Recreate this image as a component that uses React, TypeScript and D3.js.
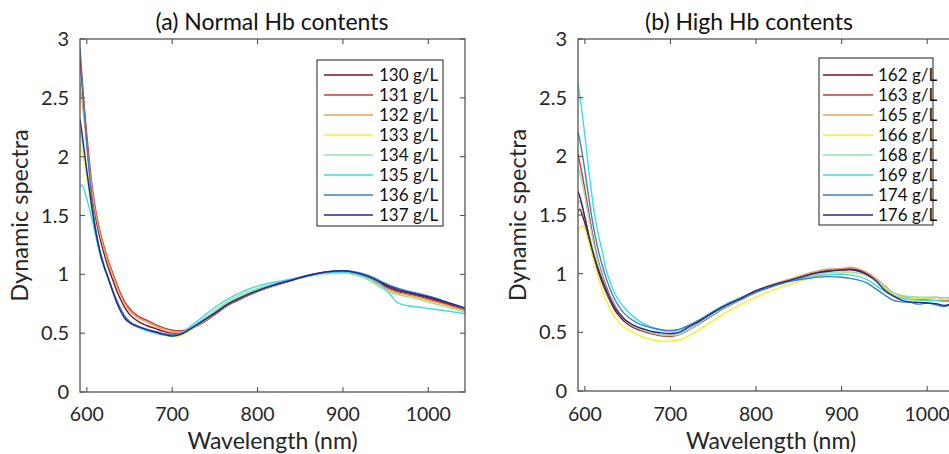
import React from "react";
import * as d3 from "d3";

// ---------- DATA ----------
const WL_A = [592, 594, 597, 600, 603, 606, 610, 615, 620, 625, 630, 635, 640, 645, 650, 660, 670, 680, 690, 700, 710, 720, 735, 750, 765, 780, 800, 820, 840, 860, 880, 900, 915, 930, 945, 955, 965, 975, 990, 1005, 1020, 1043];

const LABELS_A = ["130 g/L", "131 g/L", "132 g/L", "133 g/L", "134 g/L", "135 g/L", "136 g/L", "137 g/L"];

const A130 = [2.85, 2.66, 2.38, 2.12, 1.9, 1.7, 1.5, 1.32, 1.18, 1.06, 0.96, 0.86, 0.78, 0.71, 0.66, 0.6, 0.565, 0.54, 0.515, 0.5, 0.505, 0.53, 0.585, 0.66, 0.735, 0.79, 0.855, 0.905, 0.95, 0.99, 1.015, 1.025, 1.01, 0.975, 0.92, 0.885, 0.86, 0.845, 0.82, 0.79, 0.755, 0.7];
const A131 = [2.84, 2.68, 2.42, 2.18, 1.96, 1.76, 1.56, 1.38, 1.24, 1.12, 1.02, 0.92, 0.83, 0.76, 0.71, 0.645, 0.61, 0.575, 0.545, 0.525, 0.52, 0.54, 0.59, 0.665, 0.74, 0.795, 0.855, 0.905, 0.95, 0.99, 1.015, 1.02, 1.005, 0.97, 0.91, 0.875, 0.85, 0.835, 0.81, 0.78, 0.75, 0.7];
const A132 = [2.62, 2.5, 2.3, 2.1, 1.9, 1.72, 1.53, 1.36, 1.22, 1.1, 1.0, 0.9, 0.81, 0.74, 0.69, 0.63, 0.595, 0.56, 0.53, 0.51, 0.51, 0.535, 0.59, 0.665, 0.74, 0.795, 0.855, 0.905, 0.95, 0.985, 1.01, 1.015, 1.0, 0.96, 0.9, 0.865, 0.84, 0.825, 0.8, 0.77, 0.74, 0.69];
const A133 = [2.11, 2.06, 1.95, 1.82, 1.68, 1.54, 1.38, 1.21, 1.08, 0.97, 0.87, 0.78, 0.7, 0.64, 0.6, 0.555, 0.525, 0.505, 0.485, 0.47, 0.48, 0.52, 0.6, 0.68, 0.755, 0.81, 0.87, 0.915, 0.955, 0.985, 1.005, 1.01, 0.995, 0.955, 0.89, 0.855, 0.83, 0.815, 0.79, 0.76, 0.73, 0.68];
const A134 = [2.22, 2.15, 2.02, 1.87, 1.72, 1.57, 1.4, 1.22, 1.08, 0.97, 0.87, 0.78, 0.7, 0.64, 0.6, 0.555, 0.525, 0.505, 0.485, 0.475, 0.49, 0.535, 0.615, 0.695, 0.77, 0.825, 0.88, 0.92, 0.955, 0.985, 1.005, 1.01, 0.995, 0.95, 0.885, 0.85, 0.825, 0.81, 0.785, 0.755, 0.725, 0.68];
const A135 = [1.74, 1.76, 1.72, 1.64, 1.56, 1.47, 1.34, 1.18, 1.06, 0.96, 0.86, 0.77, 0.69, 0.63, 0.595, 0.55, 0.52, 0.5, 0.485, 0.48, 0.5, 0.55, 0.635, 0.72, 0.79, 0.845, 0.9, 0.935, 0.96, 0.99, 1.015, 1.02, 1.005, 0.97, 0.91, 0.83, 0.755, 0.735, 0.72, 0.705, 0.69, 0.665];
const A136 = [2.93, 2.72, 2.4, 2.1, 1.85, 1.62, 1.4, 1.21, 1.08, 0.97, 0.87, 0.78, 0.7, 0.64, 0.6, 0.56, 0.535, 0.515, 0.495, 0.485, 0.495, 0.53, 0.6, 0.675, 0.75, 0.805, 0.865, 0.915, 0.955, 0.995, 1.02, 1.03, 1.02, 0.99, 0.94, 0.905, 0.88, 0.86, 0.835, 0.805, 0.77, 0.71];
const A137 = [2.32, 2.22, 2.05, 1.88, 1.72, 1.56, 1.38, 1.2, 1.07, 0.97, 0.86, 0.76, 0.68, 0.62, 0.59, 0.555, 0.53, 0.51, 0.49, 0.475, 0.49, 0.53, 0.6, 0.67, 0.745, 0.8, 0.86, 0.91, 0.95, 0.99, 1.02, 1.03, 1.015, 0.98, 0.93, 0.895, 0.87, 0.85, 0.825, 0.8, 0.765, 0.715];

const WL_B = [592, 594, 597, 600, 603, 606, 610, 615, 620, 625, 630, 635, 640, 645, 650, 660, 670, 680, 690, 700, 710, 720, 735, 750, 765, 780, 800, 820, 840, 855, 870, 885, 900, 910, 920, 930, 940, 950, 960, 970, 980, 990, 1000, 1010, 1020, 1030, 1043];

const LABELS_B = ["162 g/L", "163 g/L", "165 g/L", "166 g/L", "168 g/L", "169 g/L", "174 g/L", "176 g/L"];

const B162 = [1.53, 1.55, 1.5, 1.43, 1.35, 1.26, 1.15, 1.03, 0.93, 0.84, 0.76, 0.69, 0.64, 0.6, 0.57, 0.53, 0.505, 0.485, 0.47, 0.465, 0.48, 0.515, 0.58, 0.65, 0.715, 0.77, 0.84, 0.895, 0.94, 0.975, 1.005, 1.025, 1.035, 1.035, 1.02, 0.99, 0.94, 0.88, 0.83, 0.8, 0.79, 0.78, 0.78, 0.775, 0.77, 0.77, 0.765];
const B163 = [2.02, 1.95, 1.84, 1.72, 1.59, 1.46, 1.3, 1.13, 1.0, 0.89, 0.8, 0.73, 0.67, 0.625, 0.59, 0.545, 0.515, 0.495, 0.48, 0.475, 0.485, 0.52, 0.585, 0.655, 0.72, 0.775, 0.845, 0.9, 0.945, 0.98, 1.01, 1.03, 1.035, 1.04, 1.03, 1.0, 0.95, 0.88, 0.83, 0.8, 0.79, 0.785, 0.78, 0.78, 0.77, 0.775, 0.77];
const B165 = [1.6, 1.62, 1.56, 1.48, 1.39, 1.3, 1.18, 1.06, 0.96, 0.86, 0.78, 0.71, 0.655, 0.615, 0.58, 0.54, 0.51, 0.49, 0.475, 0.47, 0.48, 0.515, 0.585, 0.66, 0.725, 0.785, 0.855, 0.91, 0.955, 0.99, 1.02, 1.04, 1.045, 1.055, 1.04, 1.01, 0.96, 0.9, 0.84, 0.81, 0.8, 0.795, 0.79, 0.8, 0.78, 0.795, 0.78];
const B166 = [1.36, 1.39, 1.41, 1.38, 1.31, 1.23, 1.12, 0.99, 0.87, 0.77, 0.69, 0.63, 0.585, 0.55, 0.525, 0.485, 0.455, 0.435, 0.425, 0.425, 0.435, 0.465, 0.53, 0.6, 0.67, 0.73, 0.8, 0.86, 0.91, 0.945, 0.975, 0.995, 1.005, 1.01, 1.0, 0.98, 0.94, 0.88, 0.83, 0.8, 0.79, 0.79, 0.785, 0.78, 0.78, 0.775, 0.77];
const B168 = [1.91, 1.86, 1.77, 1.66, 1.54, 1.42, 1.27, 1.11, 0.98, 0.87, 0.79, 0.72, 0.665, 0.625, 0.59, 0.545, 0.515, 0.495, 0.48, 0.475, 0.485, 0.52, 0.585, 0.655, 0.72, 0.775, 0.845, 0.9, 0.94, 0.97, 0.995, 1.01, 1.015, 1.015, 1.005, 0.985, 0.945, 0.89, 0.84, 0.815, 0.805, 0.8, 0.8, 0.8, 0.795, 0.8, 0.79];
const B169 = [2.63, 2.52, 2.36, 2.18, 1.99, 1.8, 1.57, 1.36, 1.2, 1.03, 0.92, 0.83, 0.77, 0.72, 0.68, 0.615, 0.57, 0.54, 0.52, 0.51, 0.52, 0.55, 0.61, 0.68, 0.74, 0.79, 0.85, 0.9, 0.94, 0.965, 0.985, 0.99, 0.995, 0.99, 0.975, 0.95, 0.9, 0.85, 0.81, 0.79, 0.78, 0.775, 0.77, 0.77, 0.765, 0.76, 0.76];
const B174 = [2.21, 2.14, 2.02, 1.88, 1.73, 1.58, 1.4, 1.22, 1.08, 0.96, 0.86, 0.78, 0.72, 0.67, 0.635, 0.585, 0.555, 0.535, 0.52, 0.515, 0.525, 0.555, 0.61, 0.675, 0.735, 0.785, 0.845, 0.895, 0.935, 0.955, 0.97, 0.975, 0.97, 0.96, 0.945, 0.92, 0.87, 0.82, 0.775, 0.76, 0.755, 0.74, 0.75, 0.735, 0.72, 0.74, 0.72];
const B176 = [1.7, 1.66, 1.58, 1.48, 1.38, 1.28, 1.17, 1.05, 0.95, 0.86, 0.78, 0.71, 0.66, 0.62, 0.59, 0.55, 0.525, 0.505, 0.495, 0.49, 0.5, 0.54, 0.6, 0.67, 0.73, 0.78, 0.855, 0.905, 0.945, 0.975, 1.005, 1.02, 1.03, 1.035, 1.025, 0.99, 0.94, 0.86, 0.81, 0.775, 0.76, 0.755, 0.75, 0.745, 0.73, 0.74, 0.73];

const X_TICKS = [600, 700, 800, 900, 1000];
const Y_TICKS = [0, 0.5, 1, 1.5, 2, 2.5, 3];
const COLORS = ["#7a1428", "#cc3838", "#e8a055", "#f2f030", "#8fe3b0", "#3fdde3", "#3a7fcc", "#27278f"];

const SERIES_A = [A130, A131, A132, A133, A134, A135, A136, A137];
const SERIES_B = [B162, B163, B165, B166, B168, B169, B174, B176];

const FONT = "Lato, 'Open Sans', sans-serif";
const AX = "#555";
const TXT = "#262626";

type PanelProps = {
  id: string;
  left: number;
  right: number;
  top: number;
  bottom: number;
  wl: number[];
  series: number[][];
  labels: string[];
  title: string;
  titleX: number;
  legend: { x0: number; x1: number; y0: number; y1: number; lx0: number; lx1: number; tx: number };
};

function Panel(p: PanelProps) {
  const x = d3.scaleLinear().domain([592, 1043]).range([p.left, p.right]);
  const y = d3.scaleLinear().domain([0, 3]).range([p.bottom, p.top]);
  const line = d3
    .line<number>()
    .x((_, i) => x(p.wl[i]))
    .y((v) => y(v))
    .curve(d3.curveMonotoneX);
  const cx = (p.left + p.right) / 2;
  const cy = (p.top + p.bottom) / 2;
  return (
    <g>
      <defs>
        <clipPath id={p.id}>
          <rect x={p.left} y={p.top} width={p.right - p.left} height={p.bottom - p.top} />
        </clipPath>
      </defs>
      <g clipPath={`url(#${p.id})`}>
        {p.series.map((s, i) => (
          <path key={i} d={line(s) || ""} fill="none" stroke={COLORS[i]} strokeWidth={1.4} />
        ))}
      </g>
      <rect x={p.left} y={p.top} width={p.right - p.left} height={p.bottom - p.top} fill="none" stroke={AX} strokeWidth={1.3} />
      {X_TICKS.map((t) => (
        <g key={"x" + t}>
          <line x1={x(t)} x2={x(t)} y1={p.bottom} y2={p.bottom - 5} stroke={AX} strokeWidth={1.1} />
          <line x1={x(t)} x2={x(t)} y1={p.top} y2={p.top + 5} stroke={AX} strokeWidth={1.1} />
          <text x={x(t)} y={421} textAnchor="middle" fontSize={19.5} fontFamily={FONT} fill={TXT}>
            {t}
          </text>
        </g>
      ))}
      {Y_TICKS.map((t) => (
        <g key={"y" + t}>
          <line x1={p.left} x2={p.left + 5} y1={y(t)} y2={y(t)} stroke={AX} strokeWidth={1.1} />
          <line x1={p.right} x2={p.right - 5} y1={y(t)} y2={y(t)} stroke={AX} strokeWidth={1.1} />
          <text x={p.left - 11} y={y(t)} dy="0.35em" textAnchor="end" fontSize={20} fontFamily={FONT} fill={TXT}>
            {t}
          </text>
        </g>
      ))}
      <text x={p.titleX} y={30} textAnchor="middle" fontSize={23} fontFamily={FONT} fill="#111">
        {p.title}
      </text>
      <text x={cx} y={449} textAnchor="middle" fontSize={23} fontFamily={FONT} fill={TXT}>
        Wavelength (nm)
      </text>
      <text transform={`translate(${p.left - 52},${cy}) rotate(-90)`} textAnchor="middle" fontSize={23.5} fontFamily={FONT} fill={TXT}>
        Dynamic spectra
      </text>
      <rect x={p.legend.x0} y={p.legend.y0} width={p.legend.x1 - p.legend.x0} height={p.legend.y1 - p.legend.y0} fill="#fff" stroke="#333" strokeWidth={1.1} />
      {p.labels.map((lab, i) => {
        const ry = 75 + i * 20;
        return (
          <g key={lab}>
            <line x1={p.legend.lx0} x2={p.legend.lx1} y1={ry} y2={ry} stroke={COLORS[i]} strokeWidth={1.4} />
            <text x={p.legend.tx} y={ry} dy="0.35em" fontSize={17} fontFamily={FONT} fill="#111">
              {lab}
            </text>
          </g>
        );
      })}
    </g>
  );
}

export default function App() {
  return (
    <svg width={949} height={454} style={{ position: "absolute", left: 0, top: 0, background: "#fff" }}>
      <rect x={0} y={0} width={949} height={454} fill="#fff" />
      <Panel
        id="clipA"
        left={80}
        right={465}
        top={39}
        bottom={392}
        wl={WL_A}
        series={SERIES_A}
        labels={LABELS_A}
        title="(a) Normal Hb contents"
        titleX={272}
        legend={{ x0: 317, x1: 443, y0: 60, y1: 226, lx0: 324, lx1: 373, tx: 379 }}
      />
      <Panel
        id="clipB"
        left={578}
        right={964}
        top={39}
        bottom={391}
        wl={WL_B}
        series={SERIES_B}
        labels={LABELS_B}
        title="(b) High Hb contents"
        titleX={749}
        legend={{ x0: 819, x1: 933, y0: 58, y1: 225, lx0: 823, lx1: 873, tx: 878 }}
      />
    </svg>
  );
}
